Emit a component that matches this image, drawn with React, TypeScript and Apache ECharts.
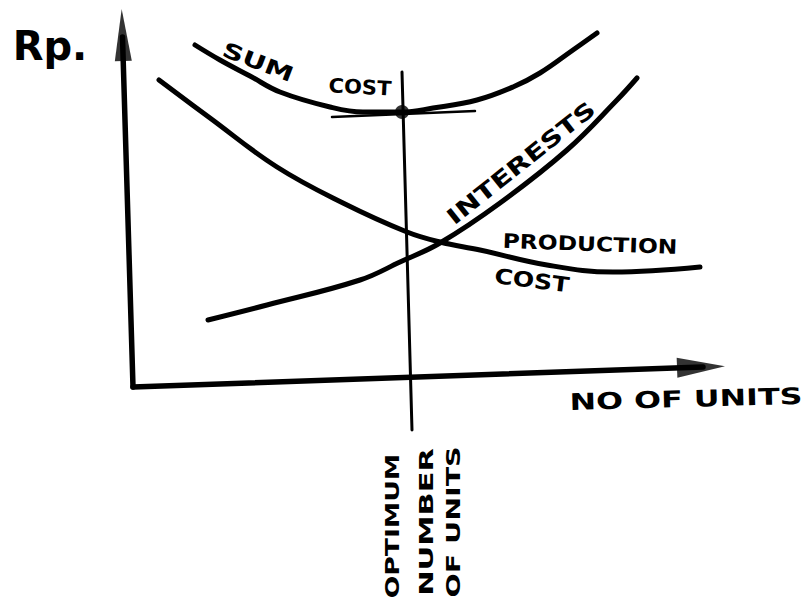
import React, { useEffect, useRef } from "react";
import * as echarts from "echarts";

// Data (x = number of units, y = Rp.)
const sumCostX = [6.2, 8.7, 11.7, 14.7, 19.7, 23.0, 26.9, 30.0, 34.4, 38.0, 40.7, 44.0, 46.4];
const sumCostY = [34.2, 32.7, 31.1, 29.5, 28.0, 27.5, 27.5, 27.9, 28.7, 30.0, 31.4, 33.7, 35.4];

const prodCostX = [2.6, 7.7, 14.4, 21.0, 27.4, 30.7, 34.7, 41.4, 48.0, 56.7];
const prodCostY = [30.7, 26.9, 22.0, 18.4, 15.5, 14.5, 13.7, 12.2, 11.5, 12.0];

const interestX = [7.5, 13.4, 22.7, 26.7, 30.7, 36.7, 43.4, 48.4, 50.4];
const interestY = [6.7, 8.2, 10.7, 12.5, 14.4, 18.4, 23.7, 28.7, 30.9];

const yAxisLine = [[0, 0], [-1.05, 35]];
const xAxisLine = [[0, 0], [57, 2.0]];
const yArrow = [-1.05, 35.2];
const xArrow = [56.8, 2.0];

const optimumLine = [[26.9, 31.5], [27.9, -4.3]];
const tangentLine = [[19.9, 27.0], [34.2, 27.6]];
const optimumPoint = [26.9, 27.5];

const zip = (xs: number[], ys: number[]) => xs.map((x, i) => [x, ys[i]]);

const FONT = '"DejaVu Sans", sans-serif';

type Lbl = { text: string; x: number; y: number; rot: number; size: number; sx: number; bold?: boolean };
const labels: Lbl[] = [
  { text: "Rp.", x: 50, y: 46, rot: 0, size: 40, sx: 1, bold: true },
  { text: "SUM", x: 258, y: 62, rot: -21, size: 21, sx: 1.4, bold: true },
  { text: "COST", x: 360, y: 87, rot: -3, size: 20, sx: 1.05, bold: true },
  { text: "INTERESTS", x: 521, y: 163, rot: 38.5, size: 22, sx: 1.35, bold: true },
  { text: "PRODUCTION", x: 590, y: 244, rot: -2, size: 20, sx: 1.17, bold: true },
  { text: "COST", x: 532, y: 280, rot: -7, size: 21, sx: 1.2, bold: true },
  { text: "NO OF UNITS", x: 686, y: 399, rot: 1.5, size: 23, sx: 1.38, bold: true },
  { text: "OPTIMUM", x: 392, y: 526, rot: 90, size: 19, sx: 1.4, bold: true },
  { text: "NUMBER", x: 426, y: 522, rot: 90, size: 19, sx: 1.6, bold: true },
  { text: "OF UNITS", x: 454, y: 522, rot: 90, size: 19, sx: 1.5, bold: true },
];

export default function App() {
  const ref = useRef<HTMLDivElement>(null);
  useEffect(() => {
    if (!ref.current) return;
    const chart = echarts.init(ref.current, null, { renderer: "svg" });
    const thick = (name: string, data: number[][], width: number, smooth: number | boolean) => ({
      type: "line",
      name,
      data,
      smooth,
      symbol: "none",
      clip: false,
      silent: true,
      lineStyle: { color: "#000", width, cap: "round", join: "round" },
    });
    chart.setOption({
      animation: false,
      backgroundColor: "#fff",
      grid: { left: 33, top: 7, width: 700, height: 580 },
      xAxis: { type: "value", min: -10, max: 60, show: false },
      yAxis: { type: "value", min: -20, max: 38, show: false },
      series: [
        thick("Sum cost", zip(sumCostX, sumCostY), 5, 0.4),
        thick("Production cost", zip(prodCostX, prodCostY), 5, 0.4),
        thick("Interests", zip(interestX, interestY), 5, 0.4),
        thick("Rp. axis", yAxisLine, 5.5, false),
        thick("Units axis", xAxisLine, 5.5, false),
        thick("Optimum", optimumLine, 3, false),
        thick("Tangent", tangentLine, 2.5, false),
        {
          type: "scatter",
          name: "Y arrow",
          data: [yArrow],
          symbol: "triangle",
          symbolSize: [17, 52],
          symbolRotate: 1.8,
          itemStyle: { color: "#000" },
          silent: true,
        },
        {
          type: "scatter",
          name: "X arrow",
          data: [xArrow],
          symbol: "triangle",
          symbolSize: [20, 48],
          symbolRotate: -88,
          itemStyle: { color: "#000" },
          silent: true,
        },
        {
          type: "scatter",
          name: "Optimum point",
          data: [optimumPoint],
          symbol: "circle",
          symbolSize: 14,
          itemStyle: { color: "#000" },
          silent: true,
        },
      ],
      graphic: labels.map((l) => ({
        type: "text",
        x: l.x,
        y: l.y,
        rotation: (l.rot * Math.PI) / 180,
        scaleX: l.sx,
        silent: true,
        style: {
          text: l.text,
          font: `${l.bold ? "bold " : ""}${l.size}px ${FONT}`,
          fill: "#000",
          align: "center",
          verticalAlign: "middle",
        },
      })),
    });
    return () => chart.dispose();
  }, []);
  return (
    <div
      ref={ref}
      style={{ position: "fixed", left: 0, top: 0, width: 809, height: 608, background: "#fff" }}
    />
  );
}
